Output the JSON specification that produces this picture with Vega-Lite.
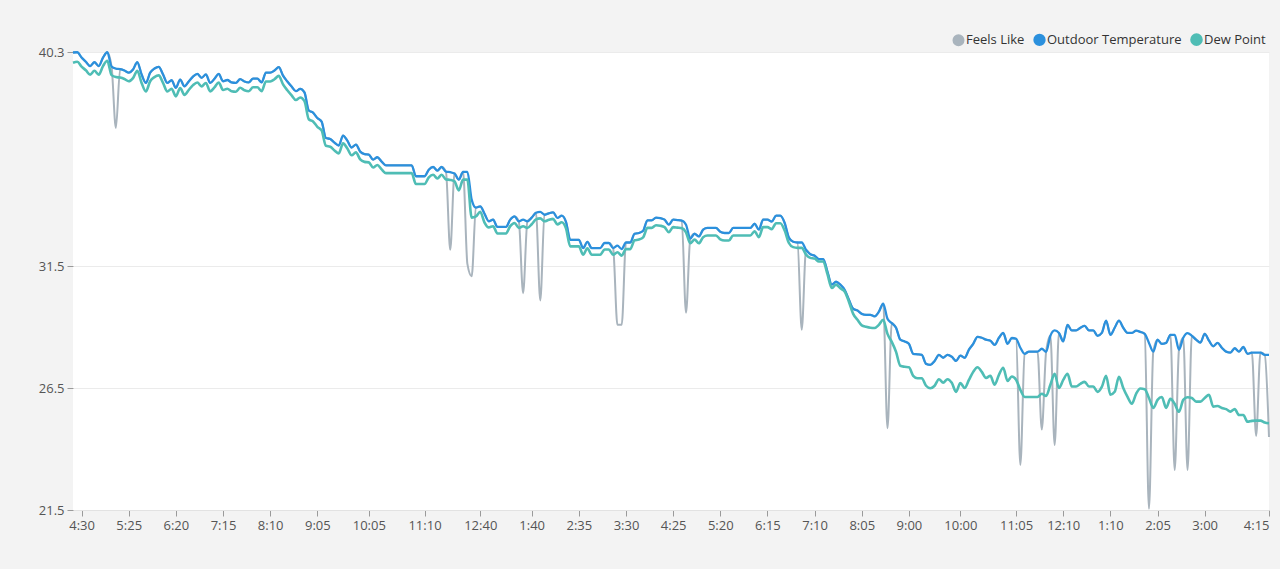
{
  "$schema": "https://vega.github.io/schema/vega-lite/v6.json",
  "width": 1196,
  "height": 458,
  "autosize": "none",
  "padding": {"left": 73, "top": 52, "right": 11, "bottom": 59},
  "background": "#f3f3f3",
  "config": {"view": {"fill": "#ffffff", "stroke": null}, "font": "Open Sans"},
  "data": {"values": [
    {"i":0,"t":40.28,"d":39.86,"f":40.28},{"i":1,"t":40.29,"d":39.9,"f":40.29},{"i":2,"t":40.07,"d":39.7,"f":40.07},{"i":3,"t":39.9,"d":39.55,"f":39.9},
    {"i":4,"t":39.72,"d":39.37,"f":39.72},{"i":5,"t":39.88,"d":39.53,"f":39.88},{"i":6,"t":39.72,"d":39.37,"f":39.72},{"i":7,"t":40.07,"d":39.72,"f":40.07},
    {"i":8,"t":40.29,"d":39.94,"f":40.29},{"i":9,"t":39.7,"d":39.35,"f":39.7},{"i":10,"t":39.62,"d":39.27,"f":37.18},{"i":11,"t":39.6,"d":39.25,"f":39.6},
    {"i":12,"t":39.54,"d":39.19,"f":39.54},{"i":13,"t":39.45,"d":39.1,"f":39.45},{"i":14,"t":39.58,"d":39.23,"f":39.58},{"i":15,"t":39.88,"d":39.53,"f":39.88},
    {"i":16,"t":39.38,"d":39.03,"f":39.38},{"i":17,"t":39.03,"d":38.68,"f":39.03},{"i":18,"t":39.45,"d":39.1,"f":39.45},{"i":19,"t":39.62,"d":39.27,"f":39.62},
    {"i":20,"t":39.69,"d":39.34,"f":39.69},{"i":21,"t":39.38,"d":39.03,"f":39.38},{"i":22,"t":39.03,"d":38.68,"f":39.03},{"i":23,"t":39.14,"d":38.79,"f":39.14},
    {"i":24,"t":38.83,"d":38.48,"f":38.83},{"i":25,"t":39.17,"d":38.82,"f":39.17},{"i":26,"t":38.89,"d":38.54,"f":38.89},{"i":27,"t":39.09,"d":38.74,"f":39.09},
    {"i":28,"t":39.29,"d":38.94,"f":39.29},{"i":29,"t":39.4,"d":39.05,"f":39.4},{"i":30,"t":39.24,"d":38.89,"f":39.24},{"i":31,"t":39.38,"d":39.03,"f":39.38},
    {"i":32,"t":39.03,"d":38.68,"f":39.03},{"i":33,"t":39.2,"d":38.85,"f":39.2},{"i":34,"t":39.4,"d":39.05,"f":39.4},{"i":35,"t":39.1,"d":38.74,"f":39.1},
    {"i":36,"t":39.15,"d":38.79,"f":39.15},{"i":37,"t":39.05,"d":38.69,"f":39.05},{"i":38,"t":39.03,"d":38.67,"f":39.03},{"i":39,"t":39.19,"d":38.83,"f":39.19},
    {"i":40,"t":39.09,"d":38.73,"f":39.09},{"i":41,"t":39.05,"d":38.69,"f":39.05},{"i":42,"t":39.21,"d":38.85,"f":39.21},{"i":43,"t":39.21,"d":38.85,"f":39.21},
    {"i":44,"t":39.05,"d":38.69,"f":39.05},{"i":45,"t":39.45,"d":39.09,"f":39.45},{"i":46,"t":39.45,"d":39.09,"f":39.45},{"i":47,"t":39.54,"d":39.18,"f":39.54},
    {"i":48,"t":39.68,"d":39.32,"f":39.68},{"i":49,"t":39.33,"d":38.97,"f":39.33},{"i":50,"t":39.09,"d":38.73,"f":39.09},{"i":51,"t":38.88,"d":38.52,"f":38.88},
    {"i":52,"t":38.69,"d":38.33,"f":38.69},{"i":53,"t":38.79,"d":38.43,"f":38.79},{"i":54,"t":38.64,"d":38.28,"f":38.64},{"i":55,"t":37.9,"d":37.54,"f":37.9},
    {"i":56,"t":37.81,"d":37.45,"f":37.81},{"i":57,"t":37.59,"d":37.23,"f":37.59},{"i":58,"t":37.44,"d":37.08,"f":37.44},{"i":59,"t":36.77,"d":36.45,"f":36.77},
    {"i":60,"t":36.73,"d":36.41,"f":36.73},{"i":61,"t":36.58,"d":36.26,"f":36.58},{"i":62,"t":36.46,"d":36.14,"f":36.46},{"i":63,"t":36.87,"d":36.55,"f":36.87},
    {"i":64,"t":36.66,"d":36.34,"f":36.66},{"i":65,"t":36.38,"d":36.06,"f":36.38},{"i":66,"t":36.5,"d":36.18,"f":36.5},{"i":67,"t":36.21,"d":35.89,"f":36.21},
    {"i":68,"t":36.11,"d":35.79,"f":36.11},{"i":69,"t":36.09,"d":35.77,"f":36.09},{"i":70,"t":35.88,"d":35.56,"f":35.88},{"i":71,"t":35.98,"d":35.66,"f":35.98},
    {"i":72,"t":35.8,"d":35.48,"f":35.8},{"i":73,"t":35.65,"d":35.33,"f":35.65},{"i":74,"t":35.65,"d":35.33,"f":35.65},{"i":75,"t":35.65,"d":35.33,"f":35.65},
    {"i":76,"t":35.65,"d":35.33,"f":35.65},{"i":77,"t":35.65,"d":35.33,"f":35.65},{"i":78,"t":35.65,"d":35.33,"f":35.65},{"i":79,"t":35.65,"d":35.33,"f":35.65},
    {"i":80,"t":35.2,"d":34.88,"f":35.2},{"i":81,"t":35.2,"d":34.88,"f":35.2},{"i":82,"t":35.2,"d":34.88,"f":35.2},{"i":83,"t":35.47,"d":35.15,"f":35.47},
    {"i":84,"t":35.58,"d":35.26,"f":35.58},{"i":85,"t":35.43,"d":35.11,"f":35.43},{"i":86,"t":35.58,"d":35.26,"f":35.58},{"i":87,"t":35.39,"d":35.07,"f":35.39},
    {"i":88,"t":35.37,"d":35.05,"f":32.18},{"i":89,"t":35.31,"d":34.99,"f":35.31},{"i":90,"t":35.06,"d":34.62,"f":35.06},{"i":91,"t":35.38,"d":35.06,"f":35.38},
    {"i":92,"t":35.38,"d":35.06,"f":31.6},{"i":93,"t":34.24,"d":33.5,"f":31.09},{"i":94,"t":33.91,"d":33.55,"f":33.91},{"i":95,"t":33.96,"d":33.74,"f":33.96},
    {"i":96,"t":33.66,"d":33.3,"f":33.66},{"i":97,"t":33.35,"d":33.1,"f":33.35},{"i":98,"t":33.42,"d":33.15,"f":33.42},{"i":99,"t":33.12,"d":32.85,"f":33.12},
    {"i":100,"t":33.12,"d":32.85,"f":33.12},{"i":101,"t":33.12,"d":32.85,"f":33.12},{"i":102,"t":33.42,"d":33.15,"f":33.42},{"i":103,"t":33.55,"d":33.28,"f":33.55},
    {"i":104,"t":33.35,"d":33.08,"f":33.35},{"i":105,"t":33.42,"d":33.15,"f":30.4},{"i":106,"t":33.35,"d":33.08,"f":33.35},{"i":107,"t":33.5,"d":33.23,"f":33.5},
    {"i":108,"t":33.7,"d":33.43,"f":33.7},{"i":109,"t":33.74,"d":33.47,"f":30.1},{"i":110,"t":33.62,"d":33.35,"f":33.62},{"i":111,"t":33.68,"d":33.41,"f":33.68},
    {"i":112,"t":33.72,"d":33.45,"f":33.72},{"i":113,"t":33.49,"d":33.22,"f":33.49},{"i":114,"t":33.58,"d":33.31,"f":33.58},{"i":115,"t":33.33,"d":33.06,"f":33.33},
    {"i":116,"t":32.59,"d":32.32,"f":32.59},{"i":117,"t":32.59,"d":32.32,"f":32.59},{"i":118,"t":32.59,"d":32.32,"f":32.59},{"i":119,"t":32.25,"d":31.98,"f":32.25},
    {"i":120,"t":32.51,"d":32.24,"f":32.51},{"i":121,"t":32.25,"d":31.98,"f":32.25},{"i":122,"t":32.25,"d":31.98,"f":32.25},{"i":123,"t":32.25,"d":31.98,"f":32.25},
    {"i":124,"t":32.46,"d":32.19,"f":32.46},{"i":125,"t":32.46,"d":32.19,"f":32.46},{"i":126,"t":32.25,"d":31.98,"f":32.25},{"i":127,"t":32.35,"d":32.08,"f":29.1},
    {"i":128,"t":32.21,"d":31.94,"f":29.1},{"i":129,"t":32.48,"d":32.21,"f":32.48},{"i":130,"t":32.48,"d":32.21,"f":32.48},{"i":131,"t":32.84,"d":32.57,"f":32.84},
    {"i":132,"t":32.87,"d":32.6,"f":32.87},{"i":133,"t":32.96,"d":32.69,"f":32.96},{"i":134,"t":33.39,"d":33.08,"f":33.39},{"i":135,"t":33.39,"d":33.08,"f":33.39},
    {"i":136,"t":33.5,"d":33.19,"f":33.5},{"i":137,"t":33.48,"d":33.17,"f":33.48},{"i":138,"t":33.42,"d":33.11,"f":33.42},{"i":139,"t":33.21,"d":32.9,"f":33.21},
    {"i":140,"t":33.42,"d":33.11,"f":33.42},{"i":141,"t":33.4,"d":33.09,"f":33.4},{"i":142,"t":33.38,"d":33.07,"f":33.38},{"i":143,"t":33.21,"d":32.9,"f":29.6},
    {"i":144,"t":32.64,"d":32.45,"f":32.64},{"i":145,"t":32.84,"d":32.6,"f":32.84},{"i":146,"t":32.73,"d":32.45,"f":32.73},{"i":147,"t":33.01,"d":32.7,"f":33.01},
    {"i":148,"t":33.08,"d":32.77,"f":33.08},{"i":149,"t":33.08,"d":32.77,"f":33.08},{"i":150,"t":33.08,"d":32.77,"f":33.08},{"i":151,"t":32.92,"d":32.61,"f":32.92},
    {"i":152,"t":32.87,"d":32.56,"f":32.87},{"i":153,"t":32.87,"d":32.56,"f":32.87},{"i":154,"t":33.08,"d":32.77,"f":33.08},{"i":155,"t":33.08,"d":32.77,"f":33.08},
    {"i":156,"t":33.08,"d":32.77,"f":33.08},{"i":157,"t":33.08,"d":32.77,"f":33.08},{"i":158,"t":33.08,"d":32.77,"f":33.08},{"i":159,"t":33.25,"d":32.94,"f":33.25},
    {"i":160,"t":33.01,"d":32.7,"f":33.01},{"i":161,"t":33.42,"d":33.11,"f":33.42},{"i":162,"t":33.42,"d":33.11,"f":33.42},{"i":163,"t":33.34,"d":33.03,"f":33.34},
    {"i":164,"t":33.58,"d":33.27,"f":33.58},{"i":165,"t":33.58,"d":33.27,"f":33.58},{"i":166,"t":33.29,"d":32.98,"f":33.29},{"i":167,"t":32.68,"d":32.46,"f":32.68},
    {"i":168,"t":32.51,"d":32.29,"f":32.51},{"i":169,"t":32.48,"d":32.26,"f":32.48},{"i":170,"t":32.48,"d":32.26,"f":28.9},{"i":171,"t":32.18,"d":31.98,"f":32.18},
    {"i":172,"t":32.0,"d":31.85,"f":32.0},{"i":173,"t":31.94,"d":31.82,"f":31.94},{"i":174,"t":31.8,"d":31.7,"f":31.8},{"i":175,"t":31.8,"d":31.7,"f":31.8},
    {"i":176,"t":31.28,"d":31.18,"f":31.28},{"i":177,"t":30.75,"d":30.61,"f":30.75},{"i":178,"t":30.87,"d":30.75,"f":30.87},{"i":179,"t":30.75,"d":30.6,"f":30.75},
    {"i":180,"t":30.54,"d":30.47,"f":30.54},{"i":181,"t":30.13,"d":30.05,"f":30.13},{"i":182,"t":29.76,"d":29.55,"f":29.76},{"i":183,"t":29.69,"d":29.31,"f":29.69},
    {"i":184,"t":29.55,"d":29.08,"f":29.55},{"i":185,"t":29.51,"d":29.02,"f":29.51},{"i":186,"t":29.51,"d":28.98,"f":29.51},{"i":187,"t":29.45,"d":28.97,"f":29.45},
    {"i":188,"t":29.64,"d":29.1,"f":29.64},{"i":189,"t":29.97,"d":29.31,"f":29.97},{"i":190,"t":29.35,"d":28.73,"f":24.86},{"i":191,"t":29.17,"d":28.4,"f":29.17},
    {"i":192,"t":28.98,"d":27.99,"f":28.98},{"i":193,"t":28.49,"d":27.42,"f":28.49},{"i":194,"t":28.42,"d":27.38,"f":28.42},{"i":195,"t":28.32,"d":27.36,"f":28.32},
    {"i":196,"t":27.91,"d":27.01,"f":27.91},{"i":197,"t":27.89,"d":26.91,"f":27.89},{"i":198,"t":27.87,"d":26.91,"f":27.87},{"i":199,"t":27.5,"d":26.6,"f":27.5},
    {"i":200,"t":27.46,"d":26.5,"f":27.46},{"i":201,"t":27.62,"d":26.6,"f":27.62},{"i":202,"t":27.87,"d":26.87,"f":27.87},{"i":203,"t":27.75,"d":26.73,"f":27.75},
    {"i":204,"t":27.87,"d":26.87,"f":27.87},{"i":205,"t":27.79,"d":26.72,"f":27.79},{"i":206,"t":27.62,"d":26.35,"f":27.62},{"i":207,"t":27.84,"d":26.71,"f":27.84},
    {"i":208,"t":27.75,"d":26.51,"f":27.75},{"i":209,"t":28.08,"d":26.84,"f":28.08},{"i":210,"t":28.32,"d":27.17,"f":28.32},{"i":211,"t":28.61,"d":27.36,"f":28.61},
    {"i":212,"t":28.57,"d":27.17,"f":28.57},{"i":213,"t":28.49,"d":26.92,"f":28.49},{"i":214,"t":28.45,"d":27.01,"f":28.45},{"i":215,"t":28.28,"d":26.64,"f":28.28},
    {"i":216,"t":28.57,"d":27.05,"f":28.57},{"i":217,"t":28.77,"d":27.34,"f":28.77},{"i":218,"t":28.32,"d":26.8,"f":28.32},{"i":219,"t":28.56,"d":26.98,"f":28.56},
    {"i":220,"t":28.53,"d":26.85,"f":28.53},{"i":221,"t":28.16,"d":26.43,"f":23.35},{"i":222,"t":27.91,"d":26.14,"f":27.91},{"i":223,"t":28.0,"d":26.14,"f":28.0},
    {"i":224,"t":28.0,"d":26.14,"f":28.0},{"i":225,"t":28.0,"d":26.14,"f":28.0},{"i":226,"t":28.12,"d":26.27,"f":24.8},{"i":227,"t":27.99,"d":26.18,"f":27.99},
    {"i":228,"t":28.65,"d":26.64,"f":28.65},{"i":229,"t":28.87,"d":27.09,"f":24.17},{"i":230,"t":28.77,"d":26.51,"f":28.77},{"i":231,"t":28.42,"d":26.84,"f":28.42},
    {"i":232,"t":29.1,"d":27.09,"f":29.1},{"i":233,"t":28.87,"d":26.57,"f":28.87},{"i":234,"t":28.87,"d":26.57,"f":28.87},{"i":235,"t":28.98,"d":26.68,"f":28.98},
    {"i":236,"t":29.06,"d":26.76,"f":29.06},{"i":237,"t":28.87,"d":26.57,"f":28.87},{"i":238,"t":28.87,"d":26.57,"f":28.87},{"i":239,"t":28.65,"d":26.35,"f":28.65},
    {"i":240,"t":28.77,"d":26.55,"f":28.77},{"i":241,"t":29.27,"d":27.01,"f":29.27},{"i":242,"t":28.69,"d":26.23,"f":28.69},{"i":243,"t":28.98,"d":26.35,"f":28.98},
    {"i":244,"t":29.27,"d":26.97,"f":29.27},{"i":245,"t":28.98,"d":26.51,"f":28.98},{"i":246,"t":28.77,"d":26.14,"f":28.77},{"i":247,"t":28.77,"d":25.86,"f":28.77},
    {"i":248,"t":28.86,"d":26.27,"f":28.86},{"i":249,"t":28.81,"d":26.49,"f":28.81},{"i":250,"t":28.73,"d":26.46,"f":28.73},{"i":251,"t":28.36,"d":26.1,"f":21.55},
    {"i":252,"t":28.0,"d":25.69,"f":28.0},{"i":253,"t":28.49,"d":26.02,"f":28.49},{"i":254,"t":28.32,"d":26.14,"f":28.32},{"i":255,"t":28.36,"d":25.69,"f":28.36},
    {"i":256,"t":28.69,"d":26.06,"f":28.69},{"i":257,"t":28.69,"d":25.86,"f":23.14},{"i":258,"t":28.08,"d":25.53,"f":28.08},{"i":259,"t":28.57,"d":26.02,"f":28.57},
    {"i":260,"t":28.76,"d":26.13,"f":23.14},{"i":261,"t":28.65,"d":26.1,"f":28.65},{"i":262,"t":28.49,"d":25.95,"f":28.49},{"i":263,"t":28.37,"d":25.95,"f":28.37},
    {"i":264,"t":28.73,"d":26.1,"f":28.73},{"i":265,"t":28.45,"d":26.23,"f":28.45},{"i":266,"t":28.22,"d":25.74,"f":28.22},{"i":267,"t":28.36,"d":25.77,"f":28.36},
    {"i":268,"t":28.16,"d":25.69,"f":28.16},{"i":269,"t":28.0,"d":25.64,"f":28.0},{"i":270,"t":27.96,"d":25.54,"f":27.96},{"i":271,"t":28.14,"d":25.64,"f":28.14},
    {"i":272,"t":28.0,"d":25.4,"f":28.0},{"i":273,"t":28.19,"d":25.4,"f":28.19},{"i":274,"t":27.91,"d":25.12,"f":27.91},{"i":275,"t":27.96,"d":25.16,"f":27.96},
    {"i":276,"t":27.96,"d":25.17,"f":24.54},{"i":277,"t":27.96,"d":25.17,"f":27.96},{"i":278,"t":27.87,"d":25.09,"f":27.87},{"i":279,"t":27.87,"d":25.06,"f":24.5}
  ]},
  "transform": [{"fold": ["f", "t", "d"], "as": ["k", "v"]}],
  "mark": {"type": "line", "interpolate": "monotone"},
  "encoding": {
    "x": {
      "field": "i", "type": "quantitative",
      "scale": {"domain": [0, 279], "nice": false, "zero": false},
      "axis": {
        "title": null, "grid": false,
        "values": [2,13,24,35,46,57,69,82,95,107,118,129,140,151,162,173,184,195,207,220,231,242,253,264,279],
        "labelExpr": "['4:30','5:25','6:20','7:15','8:10','9:05','10:05','11:10','12:40','1:40','2:35','3:30','4:25','5:20','6:15','7:10','8:05','9:00','10:00','11:05','12:10','1:10','2:05','3:00','4:15'][indexof([2,13,24,35,46,57,69,82,95,107,118,129,140,151,162,173,184,195,207,220,231,242,253,264,279], datum.value)]",
        "labelFlush": true, "labelOverlap": false,
        "domainColor": "#e2e2e2", "tickColor": "#9a9a9a", "tickSize": 6,
        "labelColor": "#555555", "labelFontSize": 13, "labelPadding": 3
      }
    },
    "y": {
      "field": "v", "type": "quantitative",
      "scale": {"domain": [21.5, 40.3], "nice": false, "zero": false},
      "axis": {
        "title": null, "values": [21.5, 26.5, 31.5, 40.3], "format": ".1f",
        "grid": true, "gridColor": "#ebebeb", "domain": false,
        "tickColor": "#9a9a9a", "tickSize": 6,
        "labelColor": "#555555", "labelFontSize": 13, "labelPadding": 3
      }
    },
    "color": {
      "field": "k", "type": "nominal",
      "scale": {"domain": ["f", "t", "d"], "range": ["#a9b4bd", "#2b90dd", "#4fbdb5"]},
      "legend": {
        "orient": "none", "legendX": 879, "legendY": -19, "direction": "horizontal",
        "title": null, "symbolType": "circle", "symbolSize": 100, "symbolStrokeWidth": 0,
        "labelFontSize": 13, "labelColor": "#333333", "labelOffset": 1, "columnPadding": 4,
        "labelExpr": "datum.label == 'f' ? 'Feels Like' : datum.label == 't' ? 'Outdoor Temperature' : 'Dew Point'",
        "encode": {"symbols": {"update": {"fill": {"scale": "color", "field": "value"}}}}
      }
    },
    "strokeWidth": {
      "field": "k", "type": "nominal",
      "scale": {"domain": ["f", "t", "d"], "range": [2, 2.6, 2]},
      "legend": null
    }
  }
}
